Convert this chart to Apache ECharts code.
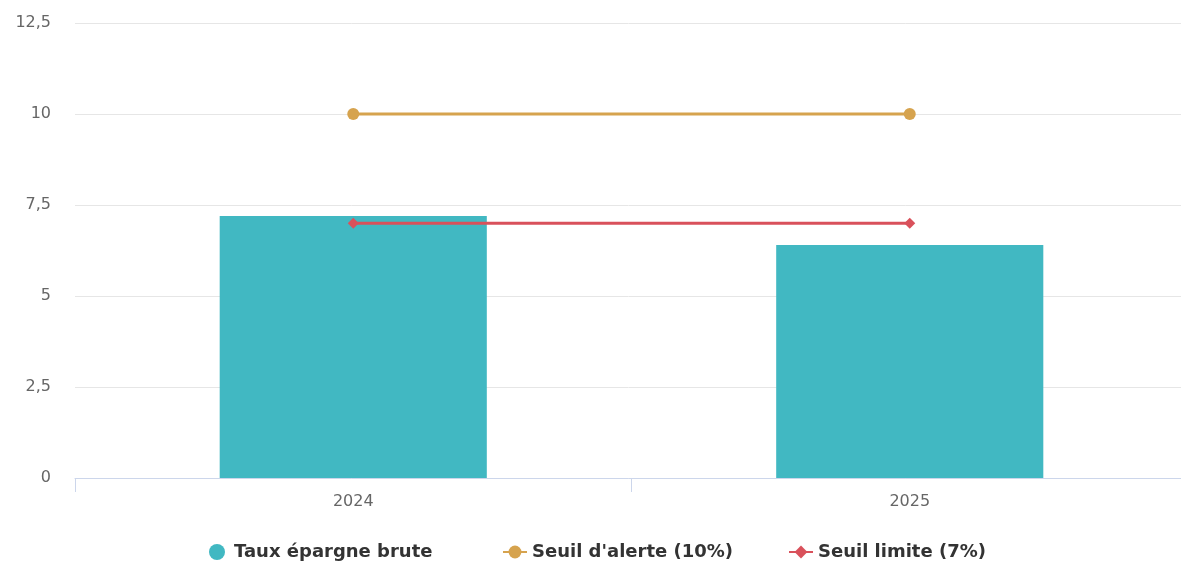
<!DOCTYPE html>
<html lang="fr">
<head>
    <meta charset="UTF-8">
    <title>Taux d'épargne brute</title>
    <script src="https://cdn.jsdelivr.net/npm/echarts@6/dist/echarts.min.js"></script>
    <style>
        html, body { margin: 0; padding: 0; background: #fff; }
        #main { width: 1181px; height: 563px; }
    </style>
</head>
<body>
<div id="main"></div>
<script>
// données du graphique
var annees = ['2024', '2025'];
var tauxEpargne = [7.2, 6.4];
var seuilAlerte = [10, 10];
var seuilLimite = [7, 7];
var nomsSeries = ['Taux épargne brute', "Seuil d'alerte (10%)", 'Seuil limite (7%)'];

var police = 'DejaVu Sans';
var myChart = echarts.init(document.getElementById('main'));

// une légende par entrée pour caler les positions
function legende(nom, left, icon) {
    var item = { name: nom };
    if (icon) item.icon = icon;
    return {
        left: left,
        top: 538,
        itemWidth: 24,
        itemHeight: 16,
        itemGap: 0,
        textStyle: { fontFamily: police, fontSize: 18, fontWeight: 'bold', color: '#333' },
        data: [item]
    };
}

var option = {
    animation: false,
    textStyle: { fontFamily: police },
    // la zone du graphe dépasse un peu à droite
    grid: { left: 75, width: 1113, top: 23, bottom: 85, outerBoundsMode: 'none' },
    legend: [
        legende(nomsSeries[0], 204, 'circle'),
        legende(nomsSeries[1], 497),
        legende(nomsSeries[2], 783)
    ],
    xAxis: {
        type: 'category',
        data: annees,
        axisLine: { lineStyle: { color: '#ccd6eb' } },
        axisTick: { show: true, length: 14, lineStyle: { color: '#ccd6eb' } },
        axisLabel: { color: '#666', fontFamily: police, fontSize: 16, margin: 16 }
    },
    yAxis: {
        type: 'value',
        min: 0,
        max: 12.5,
        interval: 2.5,
        axisLabel: {
            color: '#666',
            fontFamily: police,
            fontSize: 16,
            margin: 24,
            padding: [4, 0, 0, 0],
            formatter: function (v) { return String(v).replace('.', ','); }
        },
        splitLine: { lineStyle: { color: '#e6e6e6' } }
    },
    series: [
        {
            name: nomsSeries[0],
            type: 'bar',
            data: tauxEpargne,
            barWidth: '48%',
            itemStyle: { color: '#41b8c2' }
        },
        {
            name: nomsSeries[1],
            type: 'line',
            data: seuilAlerte,
            symbol: 'circle',
            symbolSize: 12,
            lineStyle: { width: 3, color: '#d6a34e' },
            itemStyle: { color: '#d6a34e' }
        },
        {
            name: nomsSeries[2],
            type: 'line',
            data: seuilLimite,
            symbol: 'diamond',
            symbolSize: 11,
            lineStyle: { width: 3, color: '#d9515b' },
            itemStyle: { color: '#d9515b' }
        }
    ]
};

myChart.setOption(option);
</script>
</body>
</html>
